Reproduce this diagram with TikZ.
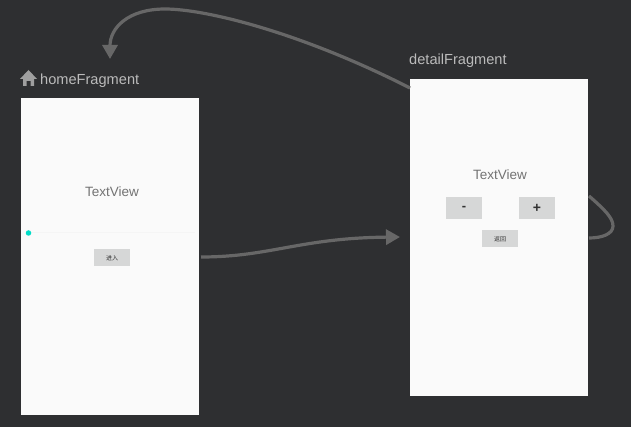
\documentclass[tikz,border=0pt]{standalone}
\usepackage{fontspec}
\setmainfont{Liberation Sans}
\newfontfamily\cjk{Noto Sans CJK SC}
\usetikzlibrary{arrows.meta,calc}
\definecolor{canvasbg}{HTML}{2E2F31}
\definecolor{screenbg}{HTML}{FAFAFA}
\definecolor{btnbg}{HTML}{D6D7D7}
\definecolor{linkcol}{HTML}{676767}
\definecolor{titlecol}{HTML}{BBBBBB}
\definecolor{accentcol}{HTML}{00DDC8}
\tikzset{
	screen/.style={rectangle,fill=screenbg,inner sep=0pt,anchor=north west},
	title/.style={inner sep=0pt,anchor=base west,text=titlecol,font=\fontsize{14.6}{15}\selectfont},
	tview/.style={inner sep=0pt,text=black!55,font=\fontsize{13.5}{14}\selectfont},
	btn/.style={rectangle,fill=btnbg,inner sep=0pt,minimum width=36pt,text=black!80,font=\cjk\fontsize{6}{6}\selectfont},
	link/.style={draw=linkcol,line width=3.2pt},
	linktip/.style={link,-{Triangle[length=14pt,width=15pt,fill=linkcol]}},
}
\begin{document}
\begin{tikzpicture}[x=1pt,y=-1pt]
	\path [use as bounding box,fill=canvasbg] (0,0) rectangle (631,427);
	% home screen
	\node [screen,minimum width=178pt,minimum height=317pt] (home) at (21,98) {};
	\node [title] (homeTitle) at (40,85) {homeFragment};
	\fill [titlecol!85!black] (28.5,70) -- (37,79) -- (34,79) -- (34,86) -- (30.5,86) -- (30.5,81) -- (26.5,81) -- (26.5,86) -- (23,86) -- (23,79) -- (20,79) -- cycle;
	\node [tview] (homeText) at (112,192) {TextView};
	\draw [black!4,line width=1pt] (29,233) -- (195,233);
	\node [circle,fill=accentcol,inner sep=0pt,minimum size=5.5pt] (homeDot) at (28.5,233) {};
	\node [btn,minimum height=17pt] (homeBtn) at (112,258) {进入};
	% detail screen
	\node [screen,minimum width=178pt,minimum height=317pt] (detail) at (410,79) {};
	\node [title] (detailTitle) at (409,65) {detailFragment};
	\node [tview] (detailText) at (500,175) {TextView};
	\node [btn,minimum height=22pt,font=\bfseries\fontsize{13}{13}\selectfont] (minusBtn) at (464,208) {-};
	\node [btn,minimum height=22pt,font=\bfseries\fontsize{14}{14}\selectfont] (plusBtn) at (537,208) {+};
	\node [btn,minimum height=17pt] (backBtn) at (500,239) {返回};
	% links
	\coordinate (homeOut) at (201,257);
	\coordinate (detailIn) at (400,237);
	\coordinate (detailOut) at (410,88);
	\coordinate (homeIn) at (110,59);
	\coordinate (loopOut) at (589,196);
	\coordinate (loopIn) at (589,238);
	\draw [linktip] (homeOut) .. controls (270,257) and (300,238) .. (detailIn);
	\draw [linktip] (detailOut) .. controls (300,32) and (205,9) .. (165,9) .. controls (128,9) and (110,28) .. (homeIn);
	\draw [link] (loopOut) .. controls (605,210) and (613,218) .. (613,226) .. controls (613,234) and (602,238) .. (loopIn);
\end{tikzpicture}
\end{document}
